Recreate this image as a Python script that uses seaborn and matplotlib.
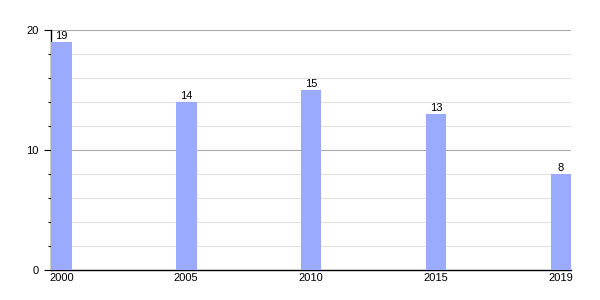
import matplotlib
matplotlib.use("Agg")
import matplotlib.pyplot as plt
import seaborn as sns
import pandas as pd
from matplotlib.ticker import MultipleLocator

years = ["2000", "2005", "2010", "2015", "2019"]
values = [19, 14, 15, 13, 8]

df = pd.DataFrame({"year": years, "value": values})

sns.set_theme(style="white")
plt.rcParams['font.family'] = ['Liberation Sans', 'DejaVu Sans']
plt.rcParams['text.color'] = 'black'
plt.rcParams['xtick.color'] = 'black'
plt.rcParams['ytick.color'] = 'black'

fig = plt.figure(figsize=(6, 3), dpi=100)
ax = fig.add_axes([0.085, 0.1, 0.867, 0.8])

sns.barplot(data=df, x="year", y="value", color="#99AAFF", saturation=1,
            width=0.165, ax=ax, zorder=3, linewidth=0)

ax.set_xlim(-0.0825, 4.0825)
ax.set_ylim(0, 20)
ax.yaxis.set_major_locator(MultipleLocator(10))
ax.yaxis.set_minor_locator(MultipleLocator(2))
ax.grid(which="major", axis="y", color="#aaaaaa", linewidth=0.8, zorder=0)
ax.grid(which="minor", axis="y", color="#e2e2e2", linewidth=0.8, zorder=0)
ax.set_axisbelow(True)

for s in ["top", "right"]:
    ax.spines[s].set_visible(False)
for s in ["left", "bottom"]:
    ax.spines[s].set_color("black")
    ax.spines[s].set_linewidth(1.0)

ax.tick_params(axis="y", which="major", length=5, width=0.8, color="black",
               labelsize=8, pad=4, left=True, direction="out", labelcolor="black")
ax.tick_params(axis="y", which="minor", length=2.5, width=0.8, color="black", left=True)
ax.tick_params(axis="x", length=0, labelsize=8, pad=2, labelcolor="black")
ax.set_xlabel("")
ax.set_ylabel("")

for c in ax.containers:
    ax.bar_label(c, fmt="%d", fontsize=8, padding=1, color="black")

fig.savefig("out.png", dpi=100)
